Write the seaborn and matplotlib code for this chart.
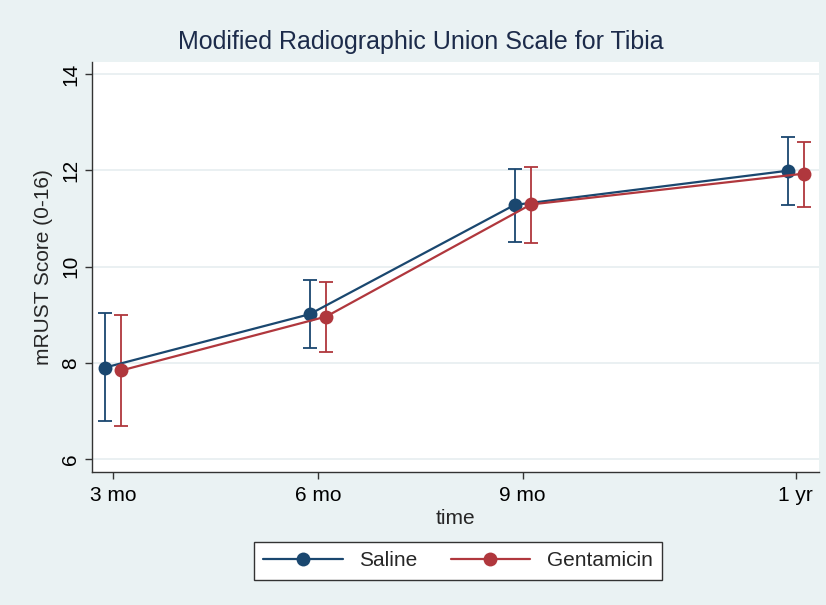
import numpy as np
import pandas as pd
import seaborn as sns
from matplotlib import pyplot as plt

sns.set_style("ticks")
plt.rcParams['font.family'] = ['Liberation Sans', 'DejaVu Sans']

time_labels = ['3 mo', '6 mo', '9 mo', '1 yr']
time_pos = [3, 6, 9, 13]
groups = ['Saline', 'Gentamicin']
saline_mean = [7.90, 9.01, 11.28, 11.99]
saline_lo = [6.79, 8.30, 10.51, 11.28]
saline_hi = [9.04, 9.72, 12.03, 12.69]
gent_mean = [7.84, 8.96, 11.29, 11.93]
gent_lo = [6.69, 8.22, 10.49, 11.24]
gent_hi = [8.99, 9.68, 12.07, 12.58]

colors = {'Saline': '#1a476f', 'Gentamicin': '#b0373d'}
shift = {'Saline': -0.12, 'Gentamicin': 0.12}

rows = []
for g, m, lo, hi in [('Saline', saline_mean, saline_lo, saline_hi),
                     ('Gentamicin', gent_mean, gent_lo, gent_hi)]:
    for t, a, b, c in zip(time_pos, m, lo, hi):
        rows.append({'group': g, 'time': t + shift[g], 'score': a, 'lo': b, 'hi': c})
df = pd.DataFrame(rows)

fig = plt.figure(figsize=(8.26, 6.05), dpi=100, facecolor='#eaf2f3')
ax = fig.add_axes([92/826, 1-472/605, (819-92)/826, (472-62)/605])
ax.set_facecolor('white')

for g in groups:
    d = df[df['group'] == g]
    ax.errorbar(d['time'], d['score'], yerr=[d['score'] - d['lo'], d['hi'] - d['score']],
                fmt='none', ecolor=colors[g], elinewidth=1.3, capsize=5, capthick=1.3, zorder=3)
sns.lineplot(data=df, x='time', y='score', hue='group', hue_order=groups, palette=colors,
             marker='o', markersize=10, markeredgewidth=0, linewidth=1.6, ax=ax,
             legend=False, zorder=4)

ax.set_xlim(2.69, 13.34)
ax.set_ylim(5.73, 14.25)
ax.set_xticks(time_pos)
ax.set_xticklabels(time_labels, fontsize=15)
ax.set_yticks([6, 8, 10, 12, 14])
ax.set_yticklabels(['6', '8', '10', '12', '14'], fontsize=15, rotation=90, va='center')
ax.grid(axis='y', color='#e6eef0', linewidth=1.2)
ax.set_axisbelow(True)
for s in ['top', 'right']:
    ax.spines[s].set_visible(False)
for s in ['left', 'bottom']:
    ax.spines[s].set_color('#333333')
    ax.spines[s].set_linewidth(1.0)
ax.tick_params(colors='#333333', length=5, width=1.0, labelcolor='black')
ax.tick_params(axis='x', pad=5)
ax.set_xlabel('time', fontsize=15, labelpad=3)
ax.set_ylabel('mRUST Score (0-16)', fontsize=15, labelpad=6)

fig.text(0.51, 1-42/605, 'Modified Radiographic Union Scale for Tibia', ha='center', va='center',
         fontsize=18, color='#1c2b4a', family=['Liberation Sans Narrow', 'Liberation Sans'])

handles = [plt.Line2D([], [], color=colors[g], marker='o', markersize=10, markeredgewidth=0,
                      linewidth=1.6) for g in groups]
leg = fig.legend(handles, groups, loc='center', bbox_to_anchor=(458/826, 1-561/605), ncol=2,
                 fontsize=15, frameon=True, fancybox=False, edgecolor='#333333',
                 facecolor='white', framealpha=1, handlelength=3.8, columnspacing=1.6,
                 borderpad=0.45)
leg.get_frame().set_linewidth(1.0)

fig.savefig('out.png', dpi=100, facecolor=fig.get_facecolor())
